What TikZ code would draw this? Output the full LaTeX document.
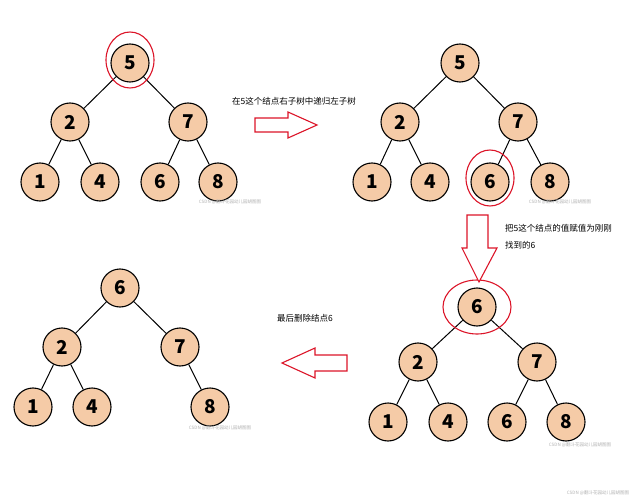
\documentclass[tikz,border=0pt]{standalone}
\usepackage{fontspec}
\setmainfont{Noto Sans CJK SC}
\begin{document}
\begin{tikzpicture}[x=1pt,y=-1pt,
 n/.style={circle,draw=black,line width=1.1pt,fill={rgb,255:red,245;green,203;blue,167},minimum size=38pt,inner sep=0pt,font=\fontsize{19}{19}\selectfont\bfseries},
 e/.style={line width=1pt},
 hl/.style={draw={rgb,255:red,220;green,20;blue,40},line width=1.1pt},
 blk/.style={draw={rgb,255:red,220;green,20;blue,40},line width=1.1pt,fill=white,line join=miter},
 lab/.style={anchor=west,font=\fontsize{8.5}{10}\selectfont,inner sep=0pt},
 wm/.style={font=\fontsize{4.5}{5}\selectfont,text=black!30,inner sep=0pt}]
\useasboundingbox (0,0) rectangle (632,500);
\fill[white] (0,0) rectangle (632,500);
% tree 1
\node[n] (a5) at (130,63) {5};
\node[n] (a2) at (70,122) {2};
\node[n] (a7) at (188,122) {7};
\node[n] (a1) at (40,182) {1};
\node[n] (a4) at (100,182) {4};
\node[n] (a6) at (160,182) {6};
\node[n] (a8) at (218,182) {8};
\draw[e] (a5)--(a2) (a5)--(a7) (a2)--(a1) (a2)--(a4) (a7)--(a6) (a7)--(a8);
\draw[hl] (130,60) ellipse [x radius=24,y radius=28];
% tree 2
\node[n] (b5) at (460,63) {5};
\node[n] (b2) at (400,122) {2};
\node[n] (b7) at (518,122) {7};
\node[n] (b1) at (372,182) {1};
\node[n] (b4) at (430,182) {4};
\node[n] (b6) at (490,182) {6};
\node[n] (b8) at (550,182) {8};
\draw[e] (b5)--(b2) (b5)--(b7) (b2)--(b1) (b2)--(b4) (b7)--(b6) (b7)--(b8);
\draw[hl] (490,178) ellipse [x radius=24,y radius=28];
% tree 3
\node[n] (c6) at (477,307) {6};
\node[n] (c2) at (418,362) {2};
\node[n] (c7) at (537,362) {7};
\node[n] (c1) at (388,422) {1};
\node[n] (c4) at (448,422) {4};
\node[n] (c66) at (507,422) {6};
\node[n] (c8) at (566,422) {8};
\draw[e] (c6)--(c2) (c6)--(c7) (c2)--(c1) (c2)--(c4) (c7)--(c66) (c7)--(c8);
\draw[hl] (477,307) ellipse [x radius=34,y radius=27];
% tree 4
\node[n] (d6) at (120,288) {6};
\node[n] (d2) at (62,347) {2};
\node[n] (d7) at (180,347) {7};
\node[n] (d1) at (33,407) {1};
\node[n] (d4) at (92,407) {4};
\node[n] (d8) at (210,407) {8};
\draw[e] (d6)--(d2) (d6)--(d7) (d2)--(d1) (d2)--(d4) (d7)--(d8);
% arrows
\draw[blk] (255,118)--(288,118)--(288,112)--(317,125)--(288,138)--(288,132)--(255,132)--cycle;
\draw[blk] (467,215)--(488,215)--(488,248)--(497,248)--(479,282)--(462,248)--(467,248)--cycle;
\draw[blk] (347,355)--(315,355)--(315,348)--(282,363)--(315,378)--(315,371)--(347,371)--cycle;
% labels
\node[lab] (t1) at (232,101) {在5这个结点右子树中递归左子树};
\node[lab] (t2) at (505,228) {把5这个结点的值赋值为刚刚};
\node[lab] (t3) at (505,245) {找到的6};
\node[lab] (t4) at (277,318) {最后删除结点6};
% watermarks
\node[wm] (w1) at (230,202) {CSDN @翻斗花园幼儿园胡图图};
\node[wm] (w2) at (560,202) {CSDN @翻斗花园幼儿园胡图图};
\node[wm] (w3) at (220,428) {CSDN @翻斗花园幼儿园胡图图};
\node[wm] (w4) at (580,445) {CSDN @翻斗花园幼儿园胡图图};
\node[wm] (w5) at (598,493) {CSDN @翻斗花园幼儿园胡图图};
\end{tikzpicture}
\end{document}
